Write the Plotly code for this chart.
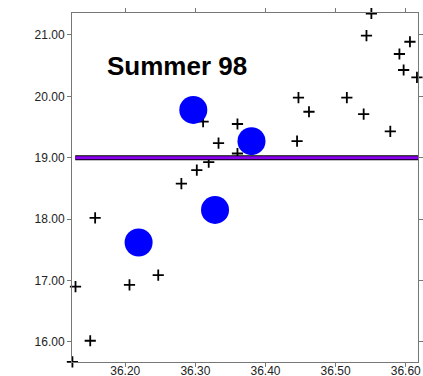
import plotly.graph_objects as go

cross_x = [36.1246, 36.129, 36.150, 36.157, 36.206, 36.247, 36.280, 36.302, 36.319, 36.311,
           36.333, 36.360, 36.360, 36.447, 36.445, 36.462, 36.516, 36.540, 36.544, 36.551,
           36.578, 36.591, 36.597, 36.606, 36.616]
cross_y = [15.676, 16.90, 16.02, 18.02, 16.93, 17.09, 18.58, 18.80, 18.93, 19.59,
           19.24, 19.55, 19.07, 19.98, 19.27, 19.75, 19.98, 19.71, 20.99, 21.35,
           19.43, 20.69, 20.43, 20.89, 20.31]

circle_x = [36.297, 36.380, 36.219, 36.328]
circle_y = [19.78, 19.27, 17.62, 18.15]

line_x = [36.1286, 36.6207]
line_y = [19.0, 19.0]

title_text = "Summer 98"
x_ticks = [36.20, 36.30, 36.40, 36.50, 36.60]
y_ticks = [16.0, 17.0, 18.0, 19.0, 20.0, 21.0]

fig = go.Figure()
fig.add_trace(go.Scatter(x=cross_x, y=cross_y, mode="markers", cliponaxis=False,
                         marker=dict(symbol="cross-thin", size=8, color="black",
                                     line=dict(width=1.8, color="black"))))
fig.add_trace(go.Scatter(x=line_x, y=line_y, mode="lines",
                         line=dict(color="black", width=5)))
fig.add_trace(go.Scatter(x=line_x, y=line_y, mode="lines",
                         line=dict(color="#8800ee", width=3)))
fig.add_trace(go.Scatter(x=circle_x, y=circle_y, mode="markers", cliponaxis=False,
                         marker=dict(symbol="circle", size=28, color="#0000ff",
                                     line=dict(width=0))))

fig.add_annotation(x=36.2735, y=20.49, xref="x", yref="y", text="<b>" + title_text + "</b>",
                   showarrow=False, font=dict(family="Liberation Sans", size=26, color="black"),
                   xanchor="center", yanchor="middle")

axis_common = dict(showgrid=False, zeroline=False, showline=True, linecolor="#777777",
                   linewidth=1, mirror="ticks", ticks="outside",
                   tickcolor="#777777", tickformat=".2f", automargin=False,
                   tickfont=dict(family="Liberation Sans", size=12, color="#222222"))
fig.update_xaxes(range=[36.124, 36.6175], tickvals=x_ticks, ticklen=4,
                 ticklabelstandoff=-6, **axis_common)
fig.update_yaxes(range=[15.674, 21.358], tickvals=y_ticks, ticklen=4, **axis_common)

fig.update_layout(width=423, height=376, showlegend=False,
                  margin=dict(l=72, r=5, t=13, b=14),
                  plot_bgcolor="white", paper_bgcolor="white")
fig.write_html("out.html")
